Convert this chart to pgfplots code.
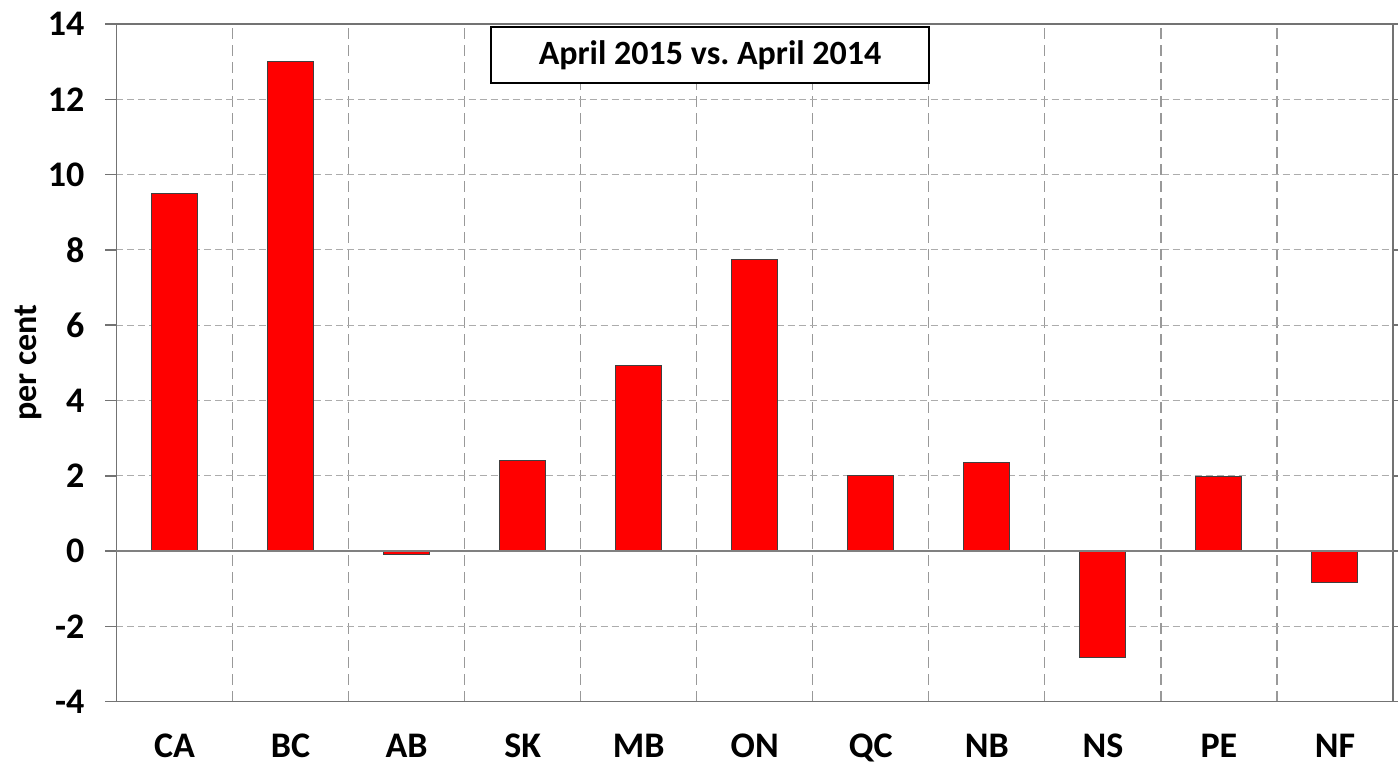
\documentclass[border=0pt]{standalone}
\usepackage{fontspec}
\setmainfont{Carlito}
\usepackage{pgfplots}
\pgfplotsset{compat=1.18}
\begin{document}
\begin{tikzpicture}
\begin{axis}[
  scale only axis,
  width=638.25pt, height=338.85pt,
  xmin=-0.5, xmax=10.5,
  ymin=-4, ymax=14,
  ytick={-4,-2,...,14},
  xtick={0,...,10},
  xticklabels={CA,BC,AB,SK,MB,ON,QC,NB,NS,PE,NF},
  minor xtick={0.5,1.5,...,9.5},
  xminorgrids=true, ymajorgrids=true,
  minor x grid style={gray!80, line width=0.6pt, dash pattern=on 5.5pt off 3pt},
  major y grid style={gray!65, line width=0.6pt, dash pattern=on 3.5pt off 2pt},
  axis line style={gray!90!black, line width=0.7pt},
  x axis line style={gray},
  major x tick style={draw=none},
  minor x tick style={draw=none},
  ytick style={gray!90!black, line width=0.7pt},
  tick align=outside,
  major tick length=5.5pt,
  /pgf/number format/assume math mode=true,
  ticklabel style={font=\bfseries\fontsize{18}{20}\selectfont},
  xticklabel style={yshift=-7pt},
  yticklabel style={xshift=-7pt},
  ylabel={per cent},
  every axis y label/.style={at={(axis description cs:-0.0689,0.5)}, rotate=90, anchor=center, font=\bfseries\fontsize{17}{19}\selectfont},
  ybar, bar width=23pt, bar shift=0pt,
  clip=false,
]
\addplot[fill=red, draw=gray!50!black, line width=0.5pt] coordinates {
(0,9.5) (1,13.0) (2,-0.1) (3,2.4) (4,4.92) (5,7.75) (6,2.0) (7,2.34) (8,-2.83) (9,1.97) (10,-0.84)};
\draw[gray, line width=0.7pt] (axis cs:-0.5,0) -- (axis cs:10.5,0);
\node[draw=black, line width=0.9pt, fill=white, minimum width=219pt, minimum height=28pt, font=\bfseries\fontsize{17}{19}\selectfont] at (rel axis cs:0.465,0.954) {April 2015 vs.\ April 2014};
\end{axis}
\pgfresetboundingbox
\useasboundingbox (-58.25pt,-32.15pt) rectangle (640.75pt,350.85pt);
\end{tikzpicture}
\end{document}
